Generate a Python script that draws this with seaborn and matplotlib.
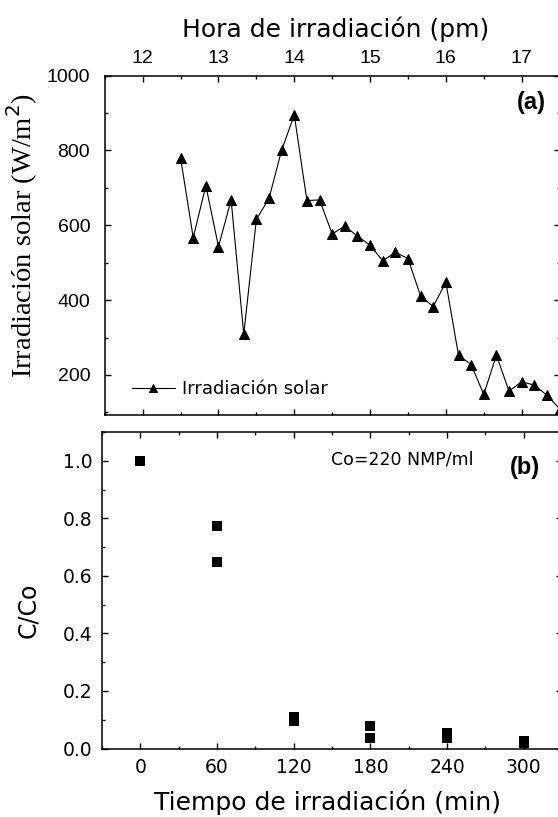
import matplotlib
matplotlib.use("Agg")
import matplotlib.pyplot as plt
import seaborn as sns
import pandas as pd
from matplotlib.ticker import MultipleLocator

# ---------------- data ----------------
hora = ["12:30", "12:40", "12:50", "13:00", "13:10", "13:20", "13:30", "13:40",
        "13:50", "14:00", "14:10", "14:20", "14:30", "14:40", "14:50", "15:00",
        "15:10", "15:20", "15:30", "15:40", "15:50", "16:00", "16:10", "16:20",
        "16:30", "16:40", "16:50", "17:00", "17:10", "17:20", "17:30"]
irradiacion = [780, 567, 706, 543, 668, 309, 616, 672, 801, 895, 666, 668, 577,
               598, 571, 547, 505, 528, 511, 411, 383, 448, 253, 228, 148, 253,
               157, 182, 173, 146, 110]

tiempo = [0, 60, 60, 120, 120, 180, 180, 240, 240, 300, 300]
c_co = [1.0, 0.775, 0.648, 0.11, 0.097, 0.077, 0.036, 0.055, 0.036, 0.025, 0.018]

hora_ticks = [12, 13, 14, 15, 16, 17]
tiempo_ticks = [0, 60, 120, 180, 240, 300]
irr_ticks = [200, 400, 600, 800, 1000]
cco_ticks = [0.0, 0.2, 0.4, 0.6, 0.8, 1.0]

# ---------------- style ----------------
sns.set_style("ticks")
plt.rcParams["font.family"] = ["Liberation Sans", "DejaVu Sans"]
plt.rcParams["text.color"] = "black"
plt.rcParams["axes.labelcolor"] = "black"
plt.rcParams["xtick.color"] = "black"
plt.rcParams["ytick.color"] = "black"
plt.rcParams["axes.edgecolor"] = "black"

def to_hours(s):
    h, m = s.split(":")
    return int(h) + int(m) / 60.0

df_a = pd.DataFrame({"hora": [to_hours(s) for s in hora], "irr": irradiacion})
df_b = pd.DataFrame({"t": tiempo, "c": c_co})

fig = plt.figure(figsize=(5.58, 8.17), dpi=100)
ax1 = fig.add_axes([0.1878, 0.492, 0.815, 0.4154])
ax2 = fig.add_axes([0.1828, 0.0838, 0.8244, 0.3874])

for ax in (ax1, ax2):
    for sp in ax.spines.values():
        sp.set_linewidth(1.1)
        sp.set_color("black")
    ax.tick_params(which="both", direction="in", top=True, right=True,
                   bottom=True, left=True, width=1.0, color="black",
                   labelcolor="black")
    ax.tick_params(which="major", length=4)
    ax.tick_params(which="minor", length=2.2)

# ---------------- panel (a) ----------------
sns.lineplot(data=df_a, x="hora", y="irr", ax=ax1, color="black", lw=0.8,
             marker="^", markersize=7.5, markeredgecolor="black",
             markerfacecolor="black", label="Irradiación solar")
ax1.set_xlim(11.5, 17.5)
ax1.set_ylim(93, 1000)
ax1.set_xticks(hora_ticks)
ax1.set_xticklabels([str(h) for h in hora_ticks])
ax1.xaxis.set_minor_locator(MultipleLocator(0.5))
ax1.set_yticks(irr_ticks)
ax1.set_yticklabels([str(v) for v in irr_ticks])
ax1.yaxis.set_minor_locator(MultipleLocator(100))
ax1.tick_params(axis="x", labeltop=True, labelbottom=False, pad=6, labelsize=14)
ax1.tick_params(axis="y", pad=10.5, labelsize=14)
ax1.xaxis.set_label_position("top")
ax1.set_xlabel("Hora de irradiación (pm)", fontsize=18, family="DejaVu Sans",
               color="black")
ax1.xaxis.set_label_coords(0.508, 1.114)
ax1.set_ylabel("Irradiación solar (W/m$^2$)", fontsize=20.5,
               family="Liberation Serif", color="black")
ax1.yaxis.set_label_coords(-0.142, 0.53)
ax1.text(0.937, 0.922, "(a)", transform=ax1.transAxes, fontsize=17,
         fontweight="bold", ha="center", va="center", color="black")
leg = ax1.legend(loc="center left", bbox_to_anchor=(0.059, 0.077),
                 frameon=False, fontsize=13, handlelength=2.4,
                 handletextpad=0.4, borderaxespad=0, borderpad=0,
                 markerscale=0.75)
for t in leg.get_texts():
    t.set_family("DejaVu Sans")
    t.set_color("black")

# ---------------- panel (b) ----------------
sns.scatterplot(data=df_b, x="t", y="c", ax=ax2, color="black", marker="s",
                s=42, edgecolor="black", linewidth=0, clip_on=False, zorder=3)
ax2.set_xlim(-30, 330)
ax2.set_ylim(0, 1.1)
ax2.set_xticks(tiempo_ticks)
ax2.set_xticklabels([str(v) for v in tiempo_ticks])
ax2.xaxis.set_minor_locator(MultipleLocator(30))
ax2.set_yticks(cco_ticks)
ax2.set_yticklabels([f"{v:.1f}" for v in cco_ticks])
ax2.yaxis.set_minor_locator(MultipleLocator(0.1))
for lab in ax2.get_xticklabels() + ax2.get_yticklabels():
    lab.set_family("DejaVu Sans")
ax2.tick_params(axis="x", pad=7, labelsize=13.5)
ax2.tick_params(axis="y", pad=7, labelsize=13.5)
ax2.set_xlabel("Tiempo de irradiación (min)", fontsize=18, family="DejaVu Sans",
               color="black")
ax2.xaxis.set_label_coords(0.49, -0.13)
ax2.set_ylabel("C/Co", fontsize=17, family="DejaVu Sans", color="black")
ax2.yaxis.set_label_coords(-0.135, 0.4376)
ax2.text(0.652, 0.914, "Co=220 NMP/ml", transform=ax2.transAxes, fontsize=12.5,
         family="DejaVu Sans", ha="center", va="center", color="black")
ax2.text(0.92, 0.889, "(b)", transform=ax2.transAxes, fontsize=17,
         fontweight="bold", ha="center", va="center", color="black")

fig.savefig("out.png", dpi=100)
